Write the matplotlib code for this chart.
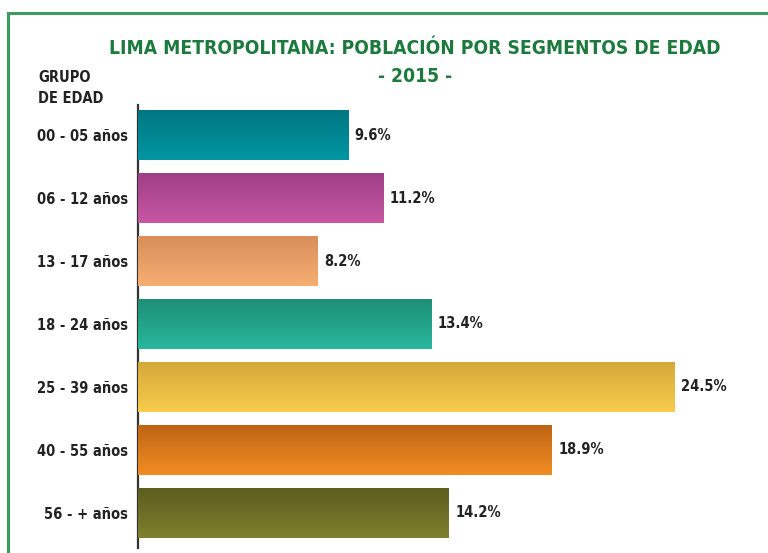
import matplotlib
matplotlib.use("Agg")
import matplotlib.pyplot as plt
import numpy as np
from matplotlib import font_manager
from matplotlib.colors import LinearSegmentedColormap
from matplotlib.patches import Rectangle

categories = ["00 - 05 años", "06 - 12 años", "13 - 17 años", "18 - 24 años",
              "25 - 39 años", "40 - 55 años", "56 - + años"]
values = [9.6, 11.2, 8.2, 13.4, 24.5, 18.9, 14.2]
labels = ["9.6%", "11.2%", "8.2%", "13.4%", "24.5%", "18.9%", "14.2%"]
top_colors = ["#007682", "#9E3E86", "#D88E5A", "#1E8E76", "#D4A838", "#BE6414", "#5C5C1E"]
bot_colors = ["#0096A2", "#C857A4", "#F6AE72", "#28B89C", "#F8CC4C", "#F08C22", "#80802E"]

cond = [f for f in font_manager.fontManager.ttflist
        if f.name == "DejaVu Sans" and "Condensed" in f.fname and "Bold" in f.fname
        and "Oblique" not in f.fname]
if cond:
    bold_fp = font_manager.FontProperties(fname=cond[0].fname)
else:
    bold_fp = font_manager.FontProperties(family="DejaVu Sans", weight="bold")

fig = plt.figure(figsize=(7.68, 5.53), dpi=100)
fig.patch.set_facecolor("white")

frame = Rectangle((8/768, -0.1), 1.2, 1 - 13/553 + 0.1, transform=fig.transFigure,
                  fill=False, edgecolor="#3E9A5E", linewidth=2.2)
fig.add_artist(frame)

ax = fig.add_axes([138/768, 1 - 548/553, 602/768, (548 - 105)/553])
y = np.arange(len(categories))
bars = ax.barh(y, values, height=0.8, color=bot_colors, edgecolor="none", zorder=2)

grad = np.linspace(0, 1, 64).reshape(-1, 1)
for b, c0, c1 in zip(bars, top_colors, bot_colors):
    cmap = LinearSegmentedColormap.from_list("g", [c0, c1])
    x0, y0 = b.get_x(), b.get_y()
    w, h = b.get_width(), b.get_height()
    im = ax.imshow(grad, extent=(x0, x0 + w, y0, y0 + h), cmap=cmap,
                   aspect="auto", origin="lower", zorder=3, interpolation="bilinear")
    im.set_clip_path(b)

def fp(size):
    p = bold_fp.copy()
    p.set_size(size)
    return p

for yi, v, lab in zip(y, values, labels):
    ax.text(v + 0.3, yi, lab, va="center", ha="left", fontproperties=fp(10.5),
            color="#222222")

ax.set_xlim(0, 27.5)
ax.set_ylim(6.56, -0.48)
ax.set_yticks(y)
ax.set_yticklabels(categories, fontproperties=fp(10.5), color="#222222")
ax.tick_params(axis="y", length=0, pad=7)
ax.set_xticks([])
for s in ["top", "right", "bottom"]:
    ax.spines[s].set_visible(False)
ax.spines["left"].set_color("#333333")
ax.spines["left"].set_linewidth(1.6)

fig.text(415/768, 1 - 48/553, "LIMA METROPOLITANA: POBLACIÓN POR SEGMENTOS DE EDAD",
         ha="center", va="center", fontproperties=fp(13.8), color="#1C7A3C")
fig.text(415/768, 1 - 76/553, "- 2015 -", ha="center", va="center",
         fontproperties=fp(13.8), color="#1C7A3C")
fig.text(38/768, 1 - 77/553, "GRUPO", ha="left", va="center", fontproperties=fp(10.5),
         color="#222222")
fig.text(38/768, 1 - 98/553, "DE EDAD", ha="left", va="center", fontproperties=fp(10.5),
         color="#222222")

fig.savefig("out.png", dpi=100)
